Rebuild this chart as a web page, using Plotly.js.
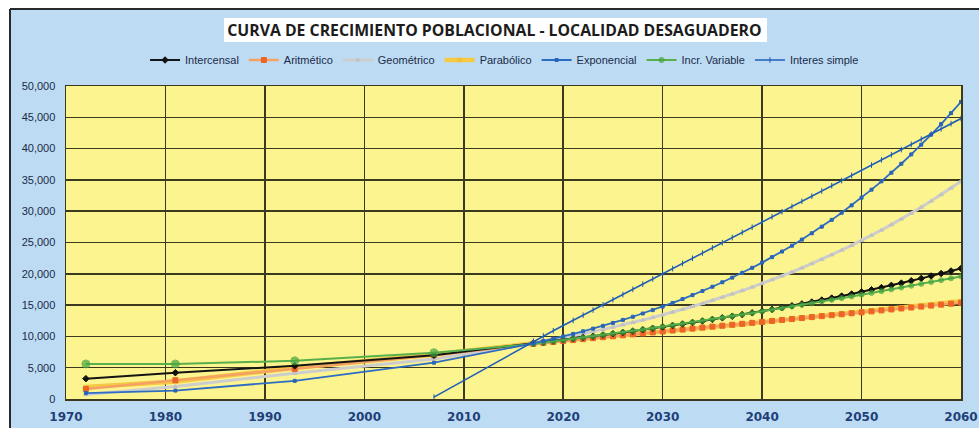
<!DOCTYPE html>
<html><head><meta charset="utf-8">
<script src="https://cdn.plot.ly/plotly-3.0.1.min.js"></script>
<style>html,body{margin:0;padding:0;background:#fff}#chart{width:979px;height:428px}</style>
</head><body><div id="chart"></div>
<script>
// ---- DATA ----
const censusYears = [1972, 1981, 1993, 2007];
const projYears = [2017,2018,2019,2020,2021,2022,2023,2024,2025,2026,2027,2028,2029,2030,
  2031,2032,2033,2034,2035,2036,2037,2038,2039,2040,2041,2042,2043,2044,2045,2046,2047,2048,
  2049,2050,2051,2052,2053,2054,2055,2056,2057,2058,2059,2060];

const intercensalCensus = [3250, 4200, 5300, 7000];
const intercensalProj = [8900,9078,9260,9445,9634,9826,10023,10223,10428,10636,10849,11066,11287,11513,
  11743,11978,12218,12462,12711,12966,13225,13490,13759,14035,14315,14602,14894,15192,15495,15805,
  16121,16444,16773,17108,17450,17799,18155,18518,18889,19267,19652,20045,20446,20855];

const aritmeticoCensus = [1600, 3000, 4800, 7000];
const aritmeticoProj = [8800,8953,9106,9259,9412,9565,9718,9871,10024,10177,10330,10483,10636,10789,
  10942,11095,11248,11401,11554,11707,11860,12013,12166,12319,12472,12625,12778,12931,13084,13237,
  13390,13543,13696,13849,14002,14155,14308,14461,14614,14767,14920,15073,15226,15379];

const geometricoCensus = [700, 2000, 4100, 6400];
const geometricoProj = [8900,9187,9483,9788,10103,10428,10764,11111,11469,11838,12219,12612,13018,13437,
  13870,14317,14778,15254,15745,16252,16775,17315,17873,18448,19042,19655,20288,20941,21616,22312,
  23030,23772,24537,25327,26143,26985,27854,28751,29677,30632,31618,32636,33687,34772];

const parabolicoCensus = [1900, 2800, 5000, 7100];
const parabolicoProj = [8900,9036,9172,9310,9448,9588,9728,9870,10012,10156,10300,10446,10592,10740,
  10888,11038,11188,11340,11492,11646,11800,11956,12112,12270,12428,12588,12748,12910,13072,13236,
  13400,13566,13732,13900,14068,14238,14408,14580,14752,14926,15100,15276,15452,15630];

const exponencialCensus = [950, 1350, 2900, 5800];
const exponencialProj = [8900,9253,9621,10003,10400,10813,11242,11688,12152,12635,13136,13658,14200,14764,
  15350,15959,16593,17251,17936,18648,19389,20158,20959,21791,22656,23555,24490,25463,26474,27525,
  28617,29753,30935,32163,33440,34767,36147,37582,39074,40626,42238,43915,45659,47471];

const incrVariableCensus = [5600, 5600, 6100, 7400];
const incrVariableProj = [8800,8998,9199,9403,9608,9816,10027,10240,10456,10674,10895,11118,11344,11573,
  11803,12037,12272,12510,12751,12994,13240,13488,13739,13992,14248,14506,14767,15030,15296,15564,
  15835,16108,16384,16662,16943,17226,17512,17800,18091,18384,18680,18978,19279,19582];

const interesStartYear = [2007];
const interesStart = [300];
const interesProj = [9250,10077,10904,11731,12558,13385,14212,15039,15866,16693,17520,18347,19174,20001,
  20828,21655,22482,23309,24136,24963,25790,26617,27444,28271,29098,29925,30752,31579,32406,33233,
  34060,34887,35714,36541,37368,38195,39022,39849,40676,41503,42330,43157,43984,44811];

const seriesNames = ['Intercensal','Aritmético','Geométrico','Parabólico','Exponencial','Incr. Variable','Interes simple'];
const xTicks = [1970,1980,1990,2000,2010,2020,2030,2040,2050,2060];
const chartTitle = 'CURVA DE CRECIMIENTO POBLACIONAL - LOCALIDAD DESAGUADERO';

// ---- TRACES ----
const fullX = censusYears.concat(projYears);
function tr(name, y, lineColor, lineWidth, markerColor, symbol, size, x) {
  return {type:'scatter', mode:'lines+markers', name:name, x: x || fullX, y:y,
    line:{color:lineColor, width:lineWidth},
    marker:{color:markerColor, symbol:symbol, size:size, line:{color:markerColor, width:1}}};
}
const traces = [
  tr(seriesNames[3], parabolicoCensus.concat(parabolicoProj), '#f6c945', 4.5, '#f3c03a', 'x', 4),
  tr(seriesNames[2], geometricoCensus.concat(geometricoProj), '#cdcdcd', 3, '#c2c2c2', 'triangle-up', 4),
  tr(seriesNames[1], aritmeticoCensus.concat(aritmeticoProj), '#f5a163', 2.5, '#ec6526', 'square', 5),
  tr(seriesNames[0], intercensalCensus.concat(intercensalProj), '#151515', 2, '#111111', 'diamond', 5),
  tr(seriesNames[5], incrVariableCensus.concat(incrVariableProj), '#58b04c', 2, '#47a541', 'circle', 5),
  tr(seriesNames[4], exponencialCensus.concat(exponencialProj), '#2d6cc3', 1.8, '#2a64b8', 'square', 3),
  tr(seriesNames[6], interesStart.concat(interesProj), '#1f5fb9', 1.6, '#1d58ad', 'line-ns-open', 4, interesStartYear.concat(projYears))
];
const order = {'Intercensal':1,'Aritmético':2,'Geométrico':3,'Parabólico':4,'Exponencial':5,'Incr. Variable':6,'Interes simple':7};
traces.forEach(t => t.legendrank = order[t.name]);
// bigger markers on census points of green series
traces[4].marker.size = incrVariableCensus.concat(incrVariableProj).map((v, i) => i < censusYears.length ? 8 : 5);

// ---- LAYOUT ----
const L = 66, R = 18, T = 86, B = 29, W = 979, H = 428;
const pw = W - L - R, ph = H - T - B;
const px = v => (v - L) / pw;
const py = v => (H - B - v) / ph;

const layout = {
  width: W, height: H,
  margin: {l:L, r:R, t:T, b:B, pad:0},
  paper_bgcolor: '#bddcf4',
  plot_bgcolor: '#fcf48e',
  font: {family: 'Liberation Sans, Arial, sans-serif', color:'#1b2a48'},
  title: {text: '<b>' + chartTitle + '</b>', x: 0.505, xref:'container', xanchor:'center',
    y: 1 - 30/H, yref:'container', yanchor:'middle',
    font:{family:'Open Sans, Liberation Sans, sans-serif', size:15.8, color:'#1c1c1c'}},
  showlegend: true,
  legend: {orientation:'h', x:0.49, xanchor:'center', y: py(60), yanchor:'middle',
    bgcolor:'rgba(0,0,0,0)', font:{family:'Liberation Sans Narrow, Liberation Sans, sans-serif', size:11, color:'#1b2a48'},
    itemwidth:30, traceorder:'normal'},
  xaxis: {range:[1970,2060], tickvals:xTicks, ticktext:xTicks.map(String),
    showgrid:true, gridcolor:'#3b3a1e', gridwidth:1.5, zeroline:false,
    showline:true, linecolor:'#3b3a1e', linewidth:1.5, mirror:true,
    ticks:'', ticklabelstandoff:6,
    tickfont:{family:'DejaVu Sans, sans-serif', size:12, color:'#1f3f78', weight:'bold'}},
  yaxis: {range:[0,50000], dtick:5000, tick0:0, tickformat:',d',
    showgrid:true, gridcolor:'#3b3a1e', gridwidth:1.5, zeroline:false,
    showline:true, linecolor:'#3b3a1e', linewidth:1.5, mirror:true,
    ticks:'', ticklabelstandoff:7,
    tickfont:{family:'Liberation Sans, sans-serif', size:11, color:'#1b2a48'}},
  shapes: [
    {type:'rect', xref:'paper', yref:'paper', layer:'below', x0:px(0), x1:px(10), y0:py(H+5), y1:py(-5), fillcolor:'#ffffff', line:{width:0}},
    {type:'rect', xref:'paper', yref:'paper', layer:'below', x0:px(0), x1:px(W+5), y0:py(9), y1:py(-5), fillcolor:'#ffffff', line:{width:0}},
    {type:'line', xref:'paper', yref:'paper', layer:'below', x0:px(10), x1:px(10), y0:py(H+5), y1:py(9), line:{color:'#2a2a2a', width:2}},
    {type:'line', xref:'paper', yref:'paper', layer:'below', x0:px(10), x1:px(W+5), y0:py(9), y1:py(9), line:{color:'#2a2a2a', width:2}},
    {type:'rect', xref:'paper', yref:'paper', layer:'below', x0:px(224), x1:px(767), y0:py(42), y1:py(18), fillcolor:'#ffffff', line:{width:0}}
  ]
};

Plotly.newPlot('chart', traces, layout, {displayModeBar:false, staticPlot:true});
</script></body></html>
